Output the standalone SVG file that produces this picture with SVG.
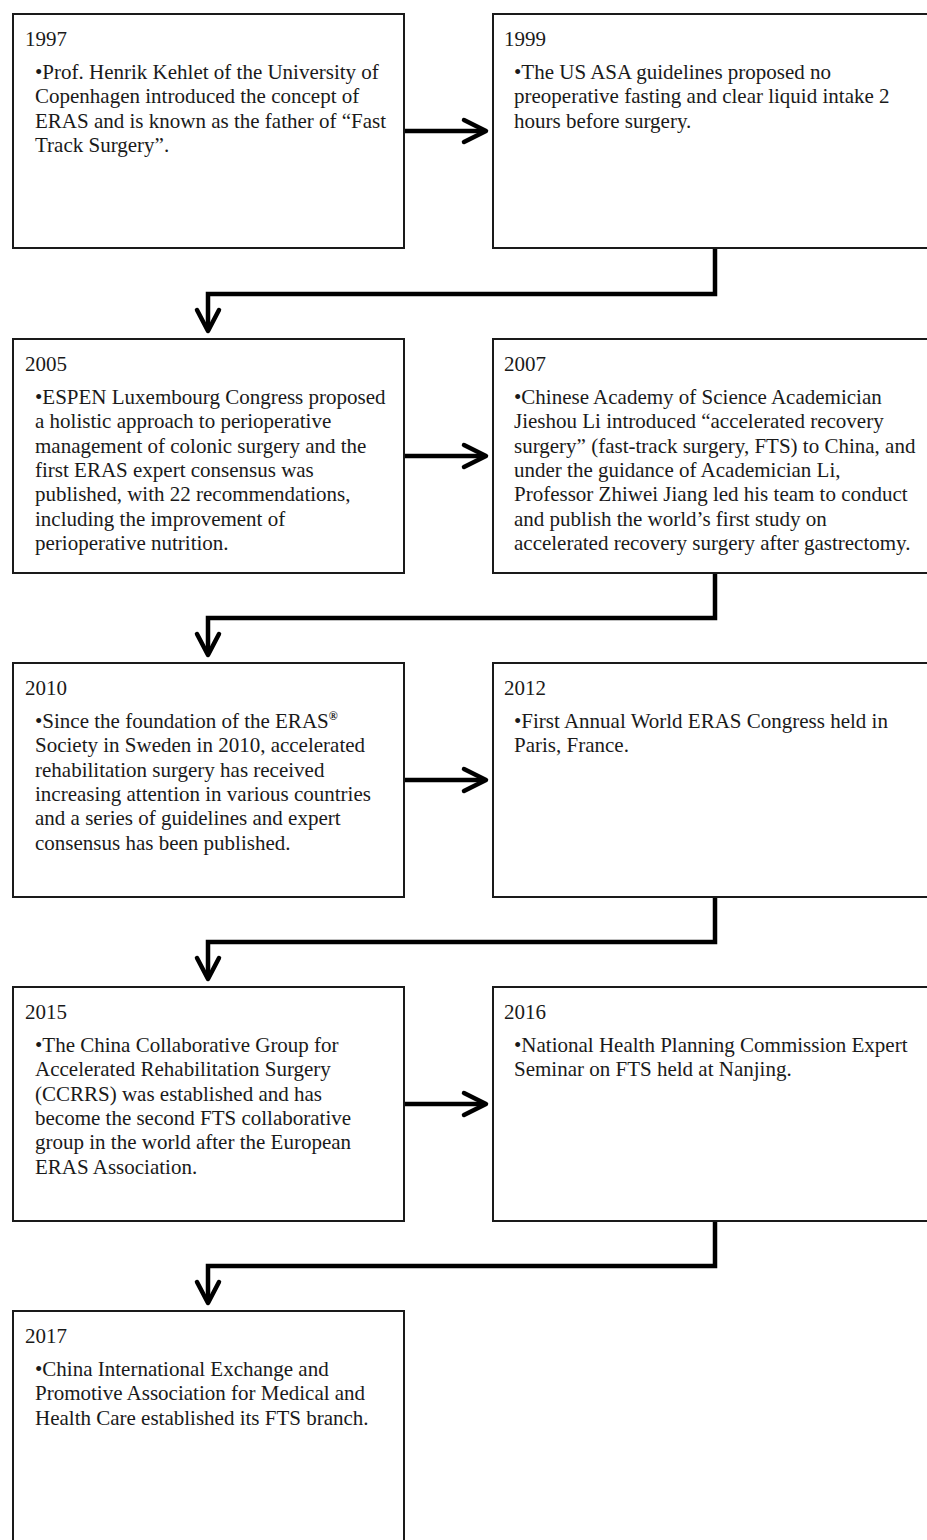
<svg xmlns="http://www.w3.org/2000/svg" width="927" height="1540" viewBox="0 0 927 1540">
<style>
.box{fill:#fff;stroke:#1a1a1a;stroke-width:2}
.t{font-family:"Liberation Serif","Times New Roman",serif;font-size:21px;fill:#1a1a1a}
.c{fill:none;stroke:#000;stroke-width:4.5;stroke-linejoin:miter}
.h{fill:none;stroke:#000;stroke-width:4.5;stroke-linecap:round;stroke-linejoin:round}
</style>
<rect width="927" height="1540" fill="#fff"/>
<g id="connectors">
<path class="c" d="M404,131 H482"/><path class="h" d="M464,120 L486,131 L464,142"/>
<path class="c" d="M404,456 H482"/><path class="h" d="M464,445 L486,456 L464,467"/>
<path class="c" d="M404,780 H482"/><path class="h" d="M464,769 L486,780 L464,791"/>
<path class="c" d="M404,1104 H482"/><path class="h" d="M464,1093 L486,1104 L464,1115"/>
<path class="c" d="M715,249 V294 H208 V328"/><path class="h" d="M197,310 L208,331 L219,310"/>
<path class="c" d="M715,573 V618 H208 V652"/><path class="h" d="M197,634 L208,655 L219,634"/>
<path class="c" d="M715,897 V942 H208 V976"/><path class="h" d="M197,958 L208,979 L219,958"/>
<path class="c" d="M715,1221 V1266 H208 V1300"/><path class="h" d="M197,1282 L208,1303 L219,1282"/>
</g>
<g id="n1997">
<rect class="box" x="13" y="14" width="391" height="234"/>
<text class="t" x="25" y="46">1997</text>
<text class="t"><tspan x="35" y="79">•Prof. Henrik Kehlet of the University of</tspan><tspan x="35" y="103.3">Copenhagen introduced the concept of</tspan><tspan x="35" y="127.6">ERAS and is known as the father of “Fast</tspan><tspan x="35" y="151.9">Track Surgery”.</tspan></text>
</g>
<g id="n1999">
<rect class="box" x="493" y="14" width="440" height="234"/>
<text class="t" x="504" y="46">1999</text>
<text class="t"><tspan x="514" y="79">•The US ASA guidelines proposed no</tspan><tspan x="514" y="103.3">preoperative fasting and clear liquid intake 2</tspan><tspan x="514" y="127.6">hours before surgery.</tspan></text>
</g>
<g id="n2005">
<rect class="box" x="13" y="339" width="391" height="234"/>
<text class="t" x="25" y="371">2005</text>
<text class="t"><tspan x="35" y="404">•ESPEN Luxembourg Congress proposed</tspan><tspan x="35" y="428.3">a holistic approach to perioperative</tspan><tspan x="35" y="452.6">management of colonic surgery and the</tspan><tspan x="35" y="476.9">first ERAS expert consensus was</tspan><tspan x="35" y="501.2">published, with 22 recommendations,</tspan><tspan x="35" y="525.5">including the improvement of</tspan><tspan x="35" y="549.8">perioperative nutrition.</tspan></text>
</g>
<g id="n2007">
<rect class="box" x="493" y="339" width="440" height="234"/>
<text class="t" x="504" y="371">2007</text>
<text class="t"><tspan x="514" y="404">•Chinese Academy of Science Academician</tspan><tspan x="514" y="428.3">Jieshou Li introduced “accelerated recovery</tspan><tspan x="514" y="452.6">surgery” (fast-track surgery, FTS) to China, and</tspan><tspan x="514" y="476.9">under the guidance of Academician Li,</tspan><tspan x="514" y="501.2">Professor Zhiwei Jiang led his team to conduct</tspan><tspan x="514" y="525.5">and publish the world’s first study on</tspan><tspan x="514" y="549.8">accelerated recovery surgery after gastrectomy.</tspan></text>
</g>
<g id="n2010">
<rect class="box" x="13" y="663" width="391" height="234"/>
<text class="t" x="25" y="695">2010</text>
<text class="t"><tspan x="35" y="728">•Since the foundation of the ERAS<tspan font-size="12" font-weight="bold" dy="-8">®</tspan></tspan><tspan x="35" y="752.3">Society in Sweden in 2010, accelerated</tspan><tspan x="35" y="776.6">rehabilitation surgery has received</tspan><tspan x="35" y="800.9">increasing attention in various countries</tspan><tspan x="35" y="825.2">and a series of guidelines and expert</tspan><tspan x="35" y="849.5">consensus has been published.</tspan></text>
</g>
<g id="n2012">
<rect class="box" x="493" y="663" width="440" height="234"/>
<text class="t" x="504" y="695">2012</text>
<text class="t"><tspan x="514" y="728">•First Annual World ERAS Congress held in</tspan><tspan x="514" y="752.3">Paris, France.</tspan></text>
</g>
<g id="n2015">
<rect class="box" x="13" y="987" width="391" height="234"/>
<text class="t" x="25" y="1019">2015</text>
<text class="t"><tspan x="35" y="1052">•The China Collaborative Group for</tspan><tspan x="35" y="1076.3">Accelerated Rehabilitation Surgery</tspan><tspan x="35" y="1100.6">(CCRRS) was established and has</tspan><tspan x="35" y="1124.9">become the second FTS collaborative</tspan><tspan x="35" y="1149.2">group in the world after the European</tspan><tspan x="35" y="1173.5">ERAS Association.</tspan></text>
</g>
<g id="n2016">
<rect class="box" x="493" y="987" width="440" height="234"/>
<text class="t" x="504" y="1019">2016</text>
<text class="t"><tspan x="514" y="1052">•National Health Planning Commission Expert</tspan><tspan x="514" y="1076.3">Seminar on FTS held at Nanjing.</tspan></text>
</g>
<g id="n2017">
<rect class="box" x="13" y="1311" width="391" height="240"/>
<text class="t" x="25" y="1343">2017</text>
<text class="t"><tspan x="35" y="1376">•China International Exchange and</tspan><tspan x="35" y="1400.3">Promotive Association for Medical and</tspan><tspan x="35" y="1424.6">Health Care established its FTS branch.</tspan></text>
</g>
</svg>
